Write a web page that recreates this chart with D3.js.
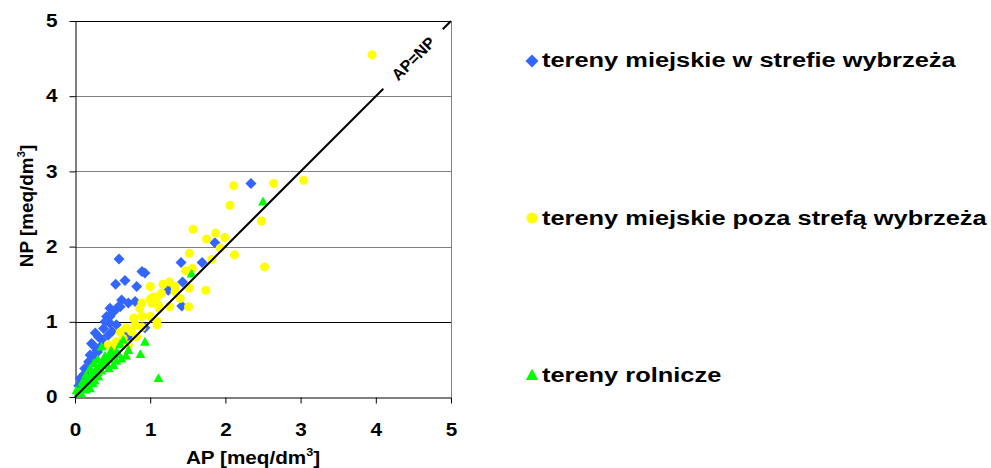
<!DOCTYPE html>
<html>
<head>
<meta charset="utf-8">
<script src="https://cdn.jsdelivr.net/npm/d3@7"></script>
<style>
  html, body { margin: 0; padding: 0; background: #fff; }
  svg { display: block; font-family: "Liberation Sans", Arial, sans-serif; font-weight: bold; }
</style>
</head>
<body>
<svg id="chart" width="991" height="468"></svg>
<script>
// [AP, NP] pairs in meq/dm3
const coastalUrban = [
  [2.34,2.84],[1.86,2.05],[1.41,1.79],[1.69,1.79],[1.43,1.53],[1.24,1.42],[1.42,1.21],
  [0.585,1.835],[0.89,1.67],[0.93,1.65],[0.54,1.50],[0.665,1.55],[0.82,1.47],
  [0.62,1.29],[0.71,1.25],[0.465,1.18],[0.575,1.20],[0.465,1.07],[0.60,1.20],
  [0.51,1.13],[0.42,1.07],[0.465,0.98],[0.55,0.96],[0.38,0.91],[0.27,0.85],[0.49,0.87],
  [0.22,0.71],[0.355,0.76],[0.29,0.625],[0.20,0.56],[0.13,0.38],[0.07,0.25],[0.18,0.47],
  [0.62,0.85],[0.71,0.80],[0.80,1.27],[0.93,0.92],[0.40,1.00],[0.31,0.80],[0.24,0.69],
  [0.44,0.82],[0.24,0.54],[0.13,0.31],[0.09,0.20],[0.05,0.15],[0.16,0.28],[0.30,0.60],
  [0.35,0.68]
];
const inlandUrban = [
  [3.95,4.55],[3.04,2.88],[2.64,2.84],[2.11,2.81],[2.06,2.55],[2.48,2.34],[2.52,1.73],
  [1.57,2.23],[1.87,2.18],[1.99,2.12],[1.75,2.10],[1.93,1.98],[2.12,1.89],[1.52,1.91],
  [1.82,1.83],[1.47,1.68],[1.56,1.71],[1.74,1.42],[1.52,1.45],[1.17,1.50],[1.26,1.53],
  [1.33,1.47],[1.15,1.38],[1.04,1.33],[1.11,1.22],[1.00,1.47],[1.51,1.20],[1.26,1.20],
  [1.40,1.31],[1.09,1.33],[1.00,1.30],[1.02,1.25],[1.12,1.18],[0.86,1.18],[0.89,1.07],
  [0.78,1.05],[1.00,1.07],[0.89,1.25],[1.09,1.00],[0.80,0.96],[0.89,0.93],[0.75,0.87],
  [0.82,0.80],[0.64,0.78],[0.55,0.735],[0.44,0.69],[0.51,0.67],[0.71,0.69],[1.33,1.40],
  [1.09,0.96],[0.60,0.86],[0.68,0.92]
];
const agricultural = [
  [2.50,2.60],[1.55,1.64],[0.64,0.76],[0.93,0.735],[0.87,0.57],[0.71,0.625],[0.62,0.51],
  [1.11,0.25],[0.55,0.60],[0.465,0.56],[0.38,0.51],[0.42,0.45],[0.33,0.40],[0.51,0.425],
  [0.27,0.34],[0.31,0.27],[0.20,0.27],[0.155,0.18],[0.24,0.18],[0.11,0.115],[0.02,0.09],
  [0.20,0.115],[0.355,0.67],[0.05,0.06],[0.08,0.12],[0.12,0.16],[0.15,0.22],[0.18,0.24],
  [0.22,0.30],[0.25,0.28],[0.28,0.36],[0.30,0.33],[0.35,0.45],[0.40,0.42],[0.45,0.50],
  [0.50,0.55],[0.58,0.57],[0.60,0.70],[0.48,0.62],[0.40,0.55],[0.35,0.35],[0.26,0.22],
  [0.14,0.10],[0.10,0.20],[0.30,0.50],[0.45,0.38],[0.55,0.48],[0.68,0.55],[0.08,0.05],
  [0.15,0.30],[0.25,0.45],[0.20,0.38]
];
const tickValues = [0, 1, 2, 3, 4, 5];
const legendLabels = [
  "tereny miejskie w strefie wybrzeża",
  "tereny miejskie poza strefą wybrzeża",
  "tereny rolnicze"
];
const colors = ["#3366ff", "#ffff00", "#00ff00"];
const shapes = ["diamond", "circle", "triangle"];

const svg = d3.select("#chart");
const x = d3.scaleLinear().domain([0, 5]).range([75, 451]);
const y = d3.scaleLinear().domain([0, 5]).range([397, 21]);
const stretch = 1.15;

function markerPath(shape, r) {
  const p = d3.path();
  if (shape === "diamond") {
    p.moveTo(0, -r); p.lineTo(r, 0); p.lineTo(0, r); p.lineTo(-r, 0); p.closePath();
  } else if (shape === "circle") {
    p.arc(0, 0, r * 0.85, 0, 2 * Math.PI);
  } else {
    p.moveTo(0, -r * 0.95); p.lineTo(r * 0.95, r * 0.75); p.lineTo(-r * 0.95, r * 0.75); p.closePath();
  }
  return p.toString();
}

// gridlines
svg.append("g").selectAll("line").data(tickValues.slice(1)).join("line")
  .attr("x1", x(0)).attr("x2", x(5))
  .attr("y1", d => Math.round(y(d)) + 0.5).attr("y2", d => Math.round(y(d)) + 0.5)
  .attr("stroke", d => (d === 1 || d === 5) ? "#000" : "#808080")
  .attr("stroke-width", 1);
svg.append("line")
  .attr("x1", Math.round(x(5)) + 0.5).attr("x2", Math.round(x(5)) + 0.5)
  .attr("y1", y(0)).attr("y2", y(5))
  .attr("stroke", "#808080");

// axes
const yAxis = svg.append("g").attr("transform", `translate(${Math.round(x(0)) + 0.5},0)`)
  .call(d3.axisLeft(y).tickValues(tickValues).tickSize(6).tickSizeOuter(0).tickPadding(12).tickFormat(d3.format("d")));
const xAxis = svg.append("g").attr("transform", `translate(0,${Math.round(y(0)) + 0.5})`)
  .call(d3.axisBottom(x).tickValues(tickValues).tickSize(6).tickSizeOuter(0).tickPadding(20).tickFormat(d3.format("d")));
[yAxis, xAxis].forEach(g => {
  g.selectAll(".domain").attr("stroke", "#000");
  g.selectAll(".tick line").attr("stroke", "#000");
  g.selectAll(".tick text")
    .attr("font-family", "'Liberation Sans', Arial, sans-serif")
    .attr("font-size", 18).attr("font-weight", "bold").attr("fill", "#000");
});
yAxis.selectAll(".tick text").each(function () {
  const t = d3.select(this);
  t.attr("x", +t.attr("x") / stretch).attr("transform", `scale(${stretch},1)`);
});
xAxis.selectAll(".tick text").attr("transform", `scale(${stretch},1)`)
  .attr("x", 0);

// series
const series = [coastalUrban, inlandUrban, agricultural];
const markerR = [5.5, 5.3, 5.2];
series.forEach((data, i) => {
  svg.append("g").selectAll("path").data(data).join("path")
    .attr("transform", d => `translate(${x(d[0])},${y(d[1])})`)
    .attr("d", markerPath(shapes[i], markerR[i]))
    .attr("fill", colors[i]);
});

// AP = NP reference line with a gap for its label
const refSegments = [[0, 4.1], [4.89, 5]];
svg.append("g").selectAll("line").data(refSegments).join("line")
  .attr("x1", d => x(d[0])).attr("y1", d => y(d[0]))
  .attr("x2", d => x(d[1])).attr("y2", d => y(d[1]))
  .attr("stroke", "#000").attr("stroke-width", 2);
svg.append("text")
  .attr("transform", `translate(${x(4.5)},${y(4.5)}) rotate(-45)`)
  .attr("text-anchor", "middle").attr("dominant-baseline", "central")
  .attr("font-size", 16)
  .text("AP=NP");

// axis titles
const xt = svg.append("text")
  .attr("transform", `translate(253,464) scale(${stretch},1)`)
  .attr("text-anchor", "middle").attr("font-size", 18);
xt.append("tspan").text("AP [meq/dm");
xt.append("tspan").attr("font-size", 11).attr("dy", -8).text("3");
xt.append("tspan").attr("dy", 8).text("]");

const yt = svg.append("text")
  .attr("transform", `translate(33,206) rotate(-90) scale(1.05,1)`)
  .attr("text-anchor", "middle").attr("font-size", 18);
yt.append("tspan").text("NP [meq/dm");
yt.append("tspan").attr("font-size", 11).attr("dy", -8).text("3");
yt.append("tspan").attr("dy", 8).text("]");

// legend
const legendY = [61, 218, 375];
const legendBase = [67, 225, 382];
const legend = svg.append("g");
legendLabels.forEach((label, i) => {
  legend.append("path")
    .attr("transform", `translate(532,${legendY[i]})`)
    .attr("d", markerPath(shapes[i], 6.5))
    .attr("fill", colors[i]);
  legend.append("text")
    .attr("transform", `translate(542,${legendBase[i]}) scale(1.27,1)`)
    .attr("font-size", 20)
    .text(label);
});
</script>
</body>
</html>
